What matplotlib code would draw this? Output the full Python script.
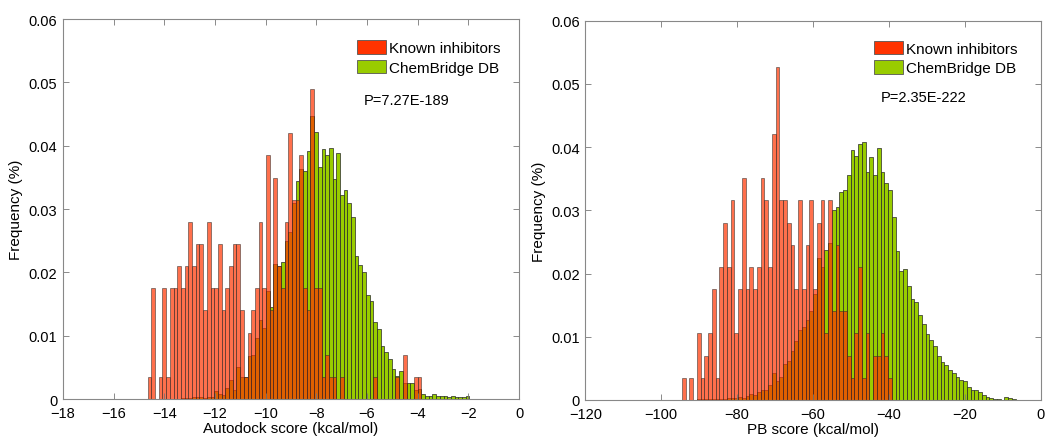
import numpy as np
import matplotlib
matplotlib.use("Agg")
import matplotlib.pyplot as plt
from matplotlib.patches import Patch
from matplotlib.ticker import FuncFormatter

plt.rcParams['font.family'] = ['Liberation Sans', 'DejaVu Sans']

# ---- Autodock panel: bins of ~0.146 kcal/mol starting at -14.585
ad_bin_start = -14.585
ad_bin_width = 0.146
# known inhibitors, counts per bin
ad_known = [1, 5, 0, 1, 5, 1, 5, 5, 6, 5,
            6, 8, 6, 7, 7, 4, 8, 5, 5, 7,
            4, 5, 6, 7, 7, 4, 1, 3, 4, 5,
            8, 5, 11, 4, 10, 6, 5, 8, 12, 9,
            9, 11, 5, 4, 14, 5, 5, 1, 2, 1,
            1, 0, 1, 0, 0, 0, 0, 0, 0, 0,
            0, 1, 0, 0, 0, 0, 0, 1, 0, 2,
            0, 0, 1, 1, 0, 0, 0, 0, 0, 0,
            0, 0, 0, 0, 0, 0, 0]
# ChemBridge DB, frequency per bin
ad_db = [0, 0, 0, 0, 0, 0, 0, 0, 0,
         0.0002, 0.0001, 0.0002, 0.0003, 0.0003, 0.0003, 0.0002, 0.0003, 0.0003, 0.0012, 0.0008,
         0.0006, 0.0017, 0.0030, 0.0015, 0.0051, 0.0034, 0.0034, 0.0068, 0.0069, 0.0096,
         0.0124, 0.0112, 0.0171, 0.0145, 0.0213, 0.0210, 0.0217, 0.0250, 0.0263, 0.0310,
         0.0345, 0.0363, 0.0360, 0.0391, 0.0447, 0.0421, 0.0366, 0.0394, 0.0385, 0.0397,
         0.0347, 0.0389, 0.0322, 0.0330, 0.0310, 0.0288, 0.0226, 0.0212, 0.0200, 0.0165,
         0.0155, 0.0121, 0.0111, 0.0084, 0.0074, 0.0063, 0.0048, 0.0037, 0.0045, 0.0026,
         0.0026, 0.0026, 0.0015, 0.0016, 0.0008, 0.0004, 0.0005, 0.0008, 0.0005, 0.0004,
         0.0004, 0.0003, 0.0004, 0.0003, 0.0003, 0.0003, 0.0004]

# ---- PB panel: bins of ~0.988 kcal/mol starting at -94.04
pb_bin_start = -94.04
pb_bin_width = 0.988
pb_known = [1, 0, 1, 0, 3, 1, 2, 3, 5, 1,
            6, 8, 6, 9, 3, 5, 10, 5, 6, 5,
            6, 10, 9, 6, 12, 15, 9, 9, 8, 7,
            5, 9, 5, 7, 9, 5, 8, 9, 3, 9,
            4, 7, 4, 4, 2, 1, 3, 6, 1, 3,
            0, 2, 2, 3, 2, 1, 0, 0, 0, 0,
            0, 0, 0, 0, 0, 0, 0, 0, 0, 0,
            0, 0, 0, 0, 0, 0, 0, 0, 0, 0,
            0, 0, 0, 0, 0, 0, 0, 0, 0]
pb_db = [0, 0, 0, 0,
         0.0002, 0.0001, 0.0001, 0.0002, 0.0002, 0.0002, 0.0002, 0.0002, 0.0003, 0.0003,
         0.0003, 0.0004, 0.0003, 0.0006, 0.0010, 0.0008, 0.0013, 0.0015, 0.0016, 0.0023,
         0.0042, 0.0030, 0.0036, 0.0057, 0.0061, 0.0078, 0.0094, 0.0110, 0.0115, 0.0126,
         0.0141, 0.0168, 0.0224, 0.0210,
         0.0237, 0.0249, 0.0300, 0.0305, 0.0329, 0.0332, 0.0356, 0.0396, 0.0386, 0.0405,
         0.0408, 0.0360, 0.0385, 0.0356, 0.0399, 0.0360, 0.0343, 0.0332, 0.0290, 0.0236,
         0.0204, 0.0207,
         0.0180, 0.0160, 0.0155, 0.0135, 0.0120, 0.0105, 0.0095, 0.0085, 0.0070, 0.0060,
         0.0056, 0.0048, 0.0042, 0.0036, 0.0032, 0.0030, 0.0020, 0.0015, 0.0016, 0.0012,
         0.0008, 0.0004, 0.0003, 0.0001, 0.0002, 0, 0.0004, 0.0003, 0.0002]

p_values = ["P=7.27E-189", "P=2.35E-222"]
x_labels = ["Autodock score (kcal/mol)", "PB score (kcal/mol)"]

red = '#FF3300'
green = '#99CC00'
edge = '#262626'

fig = plt.figure(figsize=(10.46, 4.39), dpi=100)
ax1 = fig.add_axes([0.0602, 0.0888, 0.436, 0.8656])
ax2 = fig.add_axes([0.5596, 0.0866, 0.4354, 0.8641])


def panel(ax, start, width, known, db, xlim, xticks, xlabel, ptext, leg_xy, p_xy):
    known = np.array(known, dtype=float)
    centers = start + width * np.arange(len(known))
    ax.bar(centers, db, width=width, color=green, edgecolor=edge, linewidth=0.5)
    ax.bar(centers, known / known.sum(), width=width, color=red, alpha=0.7,
           edgecolor=edge, linewidth=0.5)
    ax.set_xlim(*xlim)
    ax.set_ylim(0, 0.06)
    ax.set_xticks(xticks)
    ax.set_yticks(np.arange(0, 0.061, 0.01))
    ax.yaxis.set_major_formatter(FuncFormatter(lambda v, _: '0' if abs(v) < 1e-9 else f'{v:g}'))
    ax.tick_params(direction='in', top=True, right=True, length=4, width=0.6,
                   color='#777777', labelsize=10.5)
    ax.tick_params(axis='x', pad=5)
    ax.tick_params(axis='y', pad=4)
    for s in ax.spines.values():
        s.set_color('#888888')
        s.set_linewidth(0.8)
    ax.set_xlabel(xlabel, fontsize=11, labelpad=1)
    ax.set_ylabel("Frequency (%)", fontsize=11, labelpad=4)
    handles = [Patch(facecolor=red, edgecolor='#555555', linewidth=0.6),
               Patch(facecolor=green, edgecolor='#555555', linewidth=0.6)]
    ax.legend(handles, ["Known inhibitors", "ChemBridge DB"], loc='upper left',
              bbox_to_anchor=leg_xy, frameon=False, fontsize=11, borderpad=0,
              borderaxespad=0, handlelength=1.9, handleheight=1.0,
              handletextpad=0.2, labelspacing=0.3)
    ax.text(p_xy[0], p_xy[1], ptext, transform=ax.transAxes, fontsize=10.5, va='center')


panel(ax1, ad_bin_start, ad_bin_width, ad_known, ad_db, (-18, 0), np.arange(-18, 1, 2),
      x_labels[0], p_values[0], (0.645, 0.945), (0.66, 0.787))
panel(ax2, pb_bin_start, pb_bin_width, pb_known, pb_db, (-120, 0), np.arange(-120, 1, 20),
      x_labels[1], p_values[1], (0.633, 0.947), (0.649, 0.80))

fig.savefig("out.png", dpi=100)
